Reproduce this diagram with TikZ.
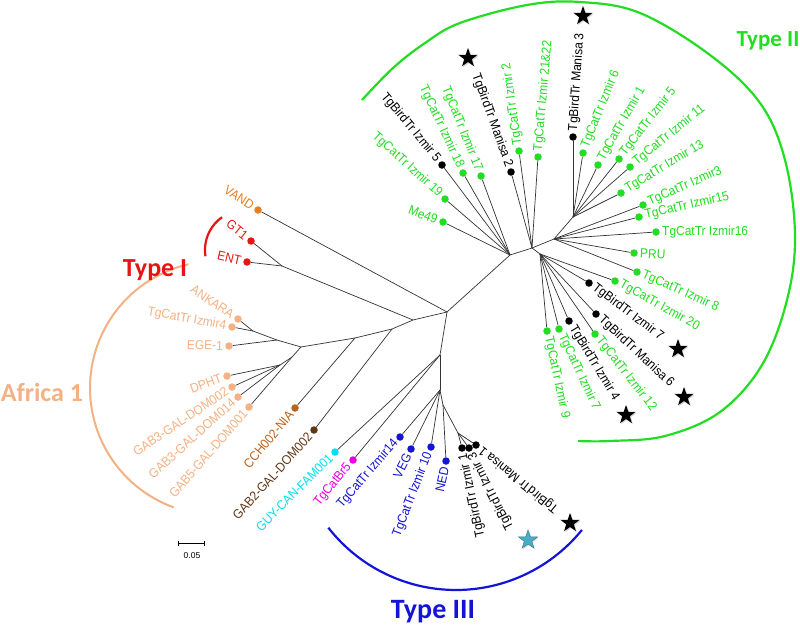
\documentclass[tikz,border=0pt]{standalone}
\usepackage{fontspec}
\setmainfont{Liberation Sans}
\newfontfamily\lblfont{Liberation Sans}[FakeStretch=0.92]
\newfontfamily\ttlfont{Carlito}
\usetikzlibrary{shapes.geometric,shadows}
\definecolor{cgreen}{RGB}{34,221,34}
\definecolor{cpeach}{RGB}{244,177,131}
\definecolor{cred}{RGB}{232,20,20}
\definecolor{corange}{RGB}{232,125,30}
\definecolor{cbrown}{RGB}{185,100,30}
\definecolor{cdbrown}{RGB}{95,55,20}
\definecolor{ccyan}{RGB}{0,225,240}
\definecolor{cmag}{RGB}{235,0,225}
\definecolor{cblue}{RGB}{20,20,215}
\definecolor{cstarblue}{RGB}{75,172,198}
\tikzset{
  br/.style={line width=0.7pt, draw=black!80},
  dot/.style={circle, inner sep=0pt, minimum size=7.5pt, draw=none},
  lbl/.style={font=\lblfont\fontsize{13}{13}\selectfont, inner xsep=6pt, inner ysep=1pt},
  ttl/.style={font=\ttlfont\bfseries\fontsize{26}{26}\selectfont, inner sep=0pt},
  bstar/.style={star, star points=5, star point ratio=2.5, minimum size=20pt, inner sep=0pt, fill=black,
     drop shadow={shadow xshift=1pt, shadow yshift=-1pt, opacity=0.35}},
  clade/.style={line width=2.2pt},
}
\newcommand\leafW[6]{\node[dot,fill=#4] (#1) at (#2,#3) {};\node[lbl,text=#4,rotate=#5,anchor=west] (#1-l) at (#1.center) {#6};}
\newcommand\leafE[6]{\node[dot,fill=#4] (#1) at (#2,#3) {};\node[lbl,text=#4,rotate=#5,anchor=east] (#1-l) at (#1.center) {#6};}
\begin{document}
\begin{tikzpicture}[x=1pt,y=-1pt]
\useasboundingbox (0,0) rectangle (800,632);
\fill[white] (0,0) rectangle (800,632);

% clade arcs
\draw[clade, cgreen] plot[smooth, tension=0.6] coordinates {(362,100) (393,68) (425,43) (460,23) (527,5) (580,2) (640,13) (710,55) (760,103) (785,160) (795,235) (787,300) (762,365) (720,412) (665,436) (610,441) (578,441)};
\draw[clade, cblue] plot[domain=218:321, samples=60] ({456+162*cos(\x)},{428-162*sin(\x)});
\draw[line width=2pt, cpeach] plot[domain=103:250, samples=60] ({217+127*cos(\x)},{388-127*sin(\x)});
\draw[clade, cred] plot[domain=125:189, samples=30] ({245+40*cos(\x)},{250-40*sin(\x)});

% clade titles
\node[ttl, text=cred] (t1) at (155,270) {Type I};
\node[ttl, text=cgreen, font=\ttlfont\bfseries\fontsize{23}{23}\selectfont] (t2) at (768,41) {Type II};
\node[ttl, text=cblue, font=\ttlfont\bfseries\fontsize{28}{28}\selectfont] (t3) at (433,612) {Type III};
\node[ttl, text=cpeach] (t4) at (42,392) {Africa 1};

% internal nodes
\coordinate (A) at (447,312);
\coordinate (R) at (413,320);
\coordinate (S) at (282,266);
\coordinate (Q) at (392,329);
\coordinate (P) at (355,338);
\coordinate (K) at (301,347);
\coordinate (L) at (277,340);
\coordinate (M) at (253,331);
\coordinate (N) at (292,357);
\coordinate (O) at (280,365);
\coordinate (B) at (440,355);
\coordinate (D) at (440,390);
\coordinate (E) at (443,405);
\coordinate (T) at (458,433);
\coordinate (F) at (510,255);
\coordinate (G) at (532,248);
\coordinate (H) at (554,239);
\coordinate (J) at (573,217);
\coordinate (I) at (540,254);

% leaves: upper left of Type II
\leafE{me49}{443}{222}{cgreen}{-20}{Me49}
\leafE{c19}{445}{199}{cgreen}{-42}{TgCatTr Izmir 19}
\leafE{b5}{442}{165}{black}{-50}{TgBirdTr Izmir 5}
\leafE{c18}{463}{173}{cgreen}{-65}{TgCatTr Izmir 18}
\leafE{c17}{481}{176}{cgreen}{-68}{TgCatTr Izmir 17}
\leafE{m2}{511}{172}{black}{-70}{TgBirdTr Manisa 2}
% Type II right
\leafW{c2}{519}{151}{cgreen}{98}{TgCatTr Izmir 2}
\leafW{c2122}{538}{157}{cgreen}{85}{TgCatTr Izmir 21\&22}
\leafW{m3}{573}{137}{black}{86}{TgBirdTr Manisa 3}
\leafW{c6}{583}{153}{cgreen}{68}{TgCatTr Izmir 6}
\leafW{c1}{598}{165}{cgreen}{60}{TgCatTr Izmir 1}
\leafW{c5}{619}{159}{cgreen}{52}{TgCatTr Izmir 5}
\leafW{c11}{630}{167}{cgreen}{39}{TgCatTr Izmir 11}
\leafW{c13}{621}{193}{cgreen}{31}{TgCatTr Izmir 13}
\leafW{c3}{643}{205}{cgreen}{24}{TgCatTr Izmir3}
\leafW{c15}{639}{217}{cgreen}{13}{TgCatTr Izmir15}
\leafW{c16}{656}{232}{cgreen}{0}{TgCatTr Izmir16}
\leafW{pru}{634}{253}{cgreen}{-3}{PRU}
\leafW{c8}{637}{272}{cgreen}{-24}{TgCatTr Izmir 8}
\leafW{c20}{615}{281}{cgreen}{-29}{TgCatTr Izmir 20}
\leafW{b7}{589}{283}{black}{-37}{TgBirdTr Izmir 7}
\leafW{m6}{596}{314}{black}{-43}{TgBirdTr Manisa 6}
\leafW{c12}{595}{334}{cgreen}{-52}{TgCatTr Izmir 12}
\leafW{b4}{569}{321}{black}{-59}{TgBirdTr Izmir 4}
\leafW{c7}{559}{329}{cgreen}{-65}{TgCatTr Izmir 7}
\leafW{c9}{547}{331}{cgreen}{-78}{TgCatTr Izmir 9}
% Type III and bottom
\leafE{b1}{462}{448}{black}{102}{TgBirdTr Izmir 1}
\leafE{b3}{469}{448}{black}{117}{TgBirdTr Izmir 3}
\leafE{m1}{476}{445}{black}{141}{TgBirdTr Manisa 1}
\leafE{ned}{446}{461}{cblue}{78}{NED}
\leafE{c10}{431}{447}{cblue}{69}{TgCatTr Izmir 10}
\leafE{veg}{411}{449}{cblue}{63}{VEG}
\leafE{c14}{400}{437}{cblue}{49}{TgCatTr Izmir14}
\leafE{br5}{353}{460}{cmag}{51}{TgCatBr5}
\leafE{guy}{335}{452}{ccyan}{45}{GUY-CAN-FAM001}
\leafE{gab2}{314}{430}{cdbrown}{48}{GAB2-GAL-DOM002}
\leafE{cch}{295}{408}{cbrown}{50}{CCH002-NIA}
% Africa 1
\leafE{gab5}{249}{407}{cpeach}{49}{GAB5-GAL-DOM001}
\leafE{gab14}{238}{397}{cpeach}{42}{GAB3-GAL-DOM014}
\leafE{gab32}{232}{387}{cpeach}{34}{GAB3-GAL-DOM002}
\leafE{dpht}{227}{376}{cpeach}{20}{DPHT}
\leafE{ege}{229}{346}{cpeach}{-2}{EGE-1}
\leafE{c4}{232}{327}{cpeach}{-10}{TgCatTr Izmir4}
\leafE{ank}{238}{319}{cpeach}{-34}{ANKARA}
% Type I and VAND
\leafE{ent}{247}{262}{cred}{-13}{ENT}
\leafE{gt1}{251}{241}{cred}{-39}{GT1}
\leafE{vand}{258}{210}{corange}{-33}{VAND}

% branches
\draw[br] (A) -- (vand);
\draw[br] (A) -- (R);
\draw[br] (A) -- (F);
\draw[br] (A) -- (B);
\draw[br] (R) -- (S);
\draw[br] (R) -- (Q);
\draw[br] (S) -- (gt1);
\draw[br] (S) -- (ent);
\draw[br] (Q) -- (P);
\draw[br] (Q) -- (gab2);
\draw[br] (P) -- (K);
\draw[br] (P) -- (cch);
\draw[br] (K) -- (L);
\draw[br] (K) -- (N);
\draw[br] (L) -- (M);
\draw[br] (L) -- (ege);
\draw[br] (M) -- (ank);
\draw[br] (M) -- (c4);
\draw[br] (N) -- (O);
\draw[br] (N) -- (gab5);
\draw[br] (O) -- (dpht);
\draw[br] (O) -- (gab32);
\draw[br] (O) -- (gab14);
\draw[br] (B) -- (guy);
\draw[br] (B) -- (br5);
\draw[br] (B) -- (D);
\draw[br] (D) -- (c14);
\draw[br] (D) -- (veg);
\draw[br] (D) -- (c10);
\draw[br] (D) -- (E);
\draw[br] (E) -- (ned);
\draw[br] (E) -- (T);
\draw[br] (T) -- (b1);
\draw[br] (T) -- (b3);
\draw[br] (T) -- (m1);
\draw[br] (F) -- (me49);
\draw[br] (F) -- (c19);
\draw[br] (F) -- (b5);
\draw[br] (F) -- (c18);
\draw[br] (F) -- (c17);
\draw[br] (F) -- (G);
\draw[br] (G) -- (m2);
\draw[br] (G) -- (c2);
\draw[br] (G) -- (c2122);
\draw[br] (G) -- (H);
\draw[br] (G) -- (I);
\draw[br] (H) -- (J);
\draw[br] (H) -- (c3);
\draw[br] (H) -- (c15);
\draw[br] (H) -- (c16);
\draw[br] (H) -- (pru);
\draw[br] (H) -- (c8);
\draw[br] (J) -- (m3);
\draw[br] (J) -- (c6);
\draw[br] (J) -- (c1);
\draw[br] (J) -- (c5);
\draw[br] (J) -- (c11);
\draw[br] (J) -- (c13);
\draw[br] (I) -- (c20);
\draw[br] (I) -- (b7);
\draw[br] (I) -- (m6);
\draw[br] (I) -- (c12);
\draw[br] (I) -- (b4);
\draw[br] (I) -- (c7);
\draw[br] (I) -- (c9);

% stars
\node[bstar] (s1) at (468,58) {};
\node[bstar] (s2) at (583,16) {};
\node[bstar] (s3) at (678,349) {};
\node[bstar] (s4) at (684,397) {};
\node[bstar] (s5) at (626,415) {};
\node[bstar] (s6) at (570,523) {};
\node[bstar, fill=cstarblue, draw=cstarblue!70!black, line width=0.4pt] (s7) at (528,540) {};

% scale bar
\coordinate (sb1) at (178,543);
\coordinate (sb2) at (204,543);
\draw[line width=0.7pt] (sb1) -- (sb2);
\draw[line width=0.7pt] ([yshift=-2.5pt]sb1) -- ([yshift=2.5pt]sb1);
\draw[line width=0.7pt] ([yshift=-2.5pt]sb2) -- ([yshift=2.5pt]sb2);
\node[font=\fontsize{8.5}{9}\selectfont, inner sep=0pt] (sbl) at (192,556) {0.05};
\end{tikzpicture}
\end{document}
